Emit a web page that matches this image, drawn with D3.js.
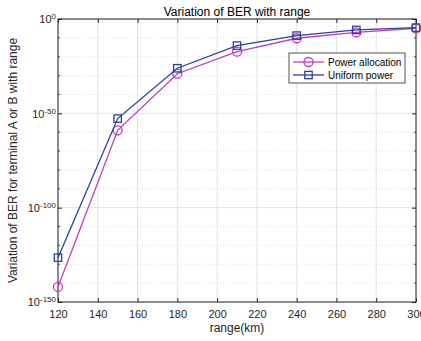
<!DOCTYPE html>
<html>
<head>
<meta charset="utf-8">
<script src="https://cdn.jsdelivr.net/npm/d3@7"></script>
<style>
  body { margin: 0; background: #fff; }
  text { font-family: "Liberation Sans", Arial, sans-serif; }
</style>
</head>
<body>
<svg id="chart" width="421" height="341"></svg>
<script>
const ranges = [120, 150, 180, 210, 240, 270, 300];
// exponents of BER (value = 10^e)
const powerAlloc = [-142, -59, -29, -17.3, -10.2, -7.1, -4.9];
const uniformPower = [-126.5, -52.8, -26.1, -14.1, -8.8, -5.8, -4.6];
const xTicks = [120, 140, 160, 180, 200, 220, 240, 260, 280, 300];
const yMajor = [0, -50, -100, -150];
const yMinor = d3.range(-140, 0, 10).filter(d => d % 50 !== 0);

const margin = {left: 58, top: 19, right: 5, bottom: 39};
const width = 421 - margin.left - margin.right;
const height = 341 - margin.top - margin.bottom;

const svg = d3.select("#chart");
const g = svg.append("g").attr("transform", `translate(${margin.left},${margin.top})`);

const x = d3.scaleLinear().domain([120, 300]).range([0, width]);
const y = d3.scaleLinear().domain([-150, 0]).range([height, 0]);

// grid
g.selectAll(".vgrid").data(xTicks).enter().append("line")
  .attr("x1", d => x(d)).attr("x2", d => x(d)).attr("y1", 0).attr("y2", height)
  .attr("stroke", "#e3e3e3").attr("stroke-width", 1);
g.selectAll(".hminor").data(yMinor).enter().append("line")
  .attr("x1", 0).attr("x2", width).attr("y1", d => y(d)).attr("y2", d => y(d))
  .attr("stroke", "#d8d8d8").attr("stroke-width", 0.8).attr("stroke-dasharray", "1,2");
g.selectAll(".hmajor").data(yMajor).enter().append("line")
  .attr("x1", 0).attr("x2", width).attr("y1", d => y(d)).attr("y2", d => y(d))
  .attr("stroke", "#e3e3e3").attr("stroke-width", 1);

// axes box
g.append("rect").attr("width", width).attr("height", height)
  .attr("fill", "none").attr("stroke", "#262626").attr("stroke-width", 1);

// x axis
const xAxis = g.append("g").attr("transform", `translate(0,${height})`)
  .call(d3.axisBottom(x).tickValues(xTicks).tickSize(-4).tickPadding(8));
xAxis.select(".domain").remove();
xAxis.selectAll("line").attr("stroke", "#262626");
xAxis.selectAll("text").attr("font-size", 11).attr("fill", "#262626");

const xTop = g.append("g")
  .call(d3.axisTop(x).tickValues(xTicks).tickSize(-4).tickFormat(""));
xTop.select(".domain").remove();
xTop.selectAll("line").attr("stroke", "#262626");

// y axis
const yAxis = g.append("g")
  .call(d3.axisLeft(y).tickValues(yMajor).tickSize(-4).tickPadding(6).tickFormat(""));
yAxis.select(".domain").remove();
yAxis.selectAll("line").attr("stroke", "#262626");
yAxis.selectAll(".tick").append("text")
  .attr("x", -2).attr("dy", "0.35em").attr("text-anchor", "end")
  .attr("fill", "#262626").attr("font-size", 11)
  .each(function(d) {
    const t = d3.select(this);
    t.append("tspan").text("10");
    t.append("tspan").attr("dy", "-0.5em").attr("font-size", 8).text(d);
  });

const yRight = g.append("g").attr("transform", `translate(${width},0)`)
  .call(d3.axisRight(y).tickValues(yMajor).tickSize(-4).tickFormat(""));
yRight.select(".domain").remove();
yRight.selectAll("line").attr("stroke", "#262626");

[[0, 2], [width, -2]].forEach(([x0, len]) => {
  g.selectAll(null).data(yMinor).enter().append("line")
    .attr("x1", x0).attr("x2", x0 + len).attr("y1", d => y(d)).attr("y2", d => y(d))
    .attr("stroke", "#262626").attr("stroke-width", 0.8);
});

// series
const series = [
  {name: "Power allocation", values: powerAlloc, color: "#c23dbd", marker: "circle"},
  {name: "Uniform power", values: uniformPower, color: "#2c3ea8", marker: "square"}
];
const line = d3.line().x((d, i) => x(ranges[i])).y(d => y(d));

function drawMarker(sel, type, color) {
  if (type === "circle") {
    sel.append("circle").attr("r", 4.5).attr("fill", "none")
      .attr("stroke", color).attr("stroke-width", 1.3);
  } else {
    sel.append("rect").attr("x", -3.7).attr("y", -3.7).attr("width", 7.4).attr("height", 7.4)
      .attr("fill", "none").attr("stroke", color).attr("stroke-width", 1.3);
  }
}

series.forEach(s => {
  g.append("path").datum(s.values).attr("d", line)
    .attr("fill", "none").attr("stroke", s.color).attr("stroke-width", 1.3);
  g.selectAll(null).data(s.values).enter().append("g")
    .attr("transform", (d, i) => `translate(${x(ranges[i])},${y(d)})`)
    .each(function() { drawMarker(d3.select(this), s.marker, s.color); });
});

// legend
const lg = svg.append("g").attr("transform", "translate(289,53)");
lg.append("rect").attr("width", 116).attr("height", 30)
  .attr("fill", "#fff").attr("stroke", "#262626").attr("stroke-width", 0.8);
series.forEach((s, i) => {
  const row = lg.append("g").attr("transform", `translate(0,${9 + i * 13})`);
  row.append("line").attr("x1", 4).attr("x2", 35).attr("stroke", s.color).attr("stroke-width", 1.3);
  drawMarker(row.append("g").attr("transform", "translate(19.5,0)"), s.marker, s.color);
  row.append("text").attr("x", 39).attr("dy", "0.35em").attr("font-size", 10)
    .attr("fill", "#000").text(s.name);
});

// titles
svg.append("text").attr("x", margin.left + width / 2).attr("y", 16)
  .attr("text-anchor", "middle").attr("font-size", 12).attr("fill", "#000")
  .text("Variation of BER with range");
svg.append("text").attr("x", margin.left + width / 2).attr("y", 332)
  .attr("text-anchor", "middle").attr("font-size", 12).attr("fill", "#262626")
  .text("range(km)");
svg.append("text")
  .attr("transform", `translate(17,${margin.top + height / 2}) rotate(-90)`)
  .attr("text-anchor", "middle").attr("font-size", 12).attr("fill", "#262626")
  .text("Variation of BER for terminal A or B with range");
</script>
</body>
</html>
